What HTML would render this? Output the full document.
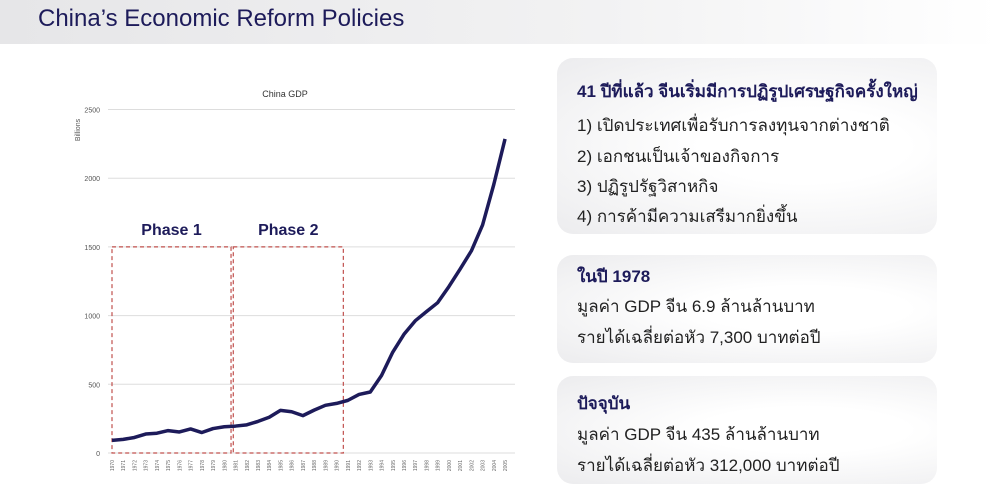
<!DOCTYPE html>
<html><head><meta charset="utf-8"><style>
body{margin:0;width:1000px;height:492px;background:#fff;font-family:"Liberation Sans","DejaVu Sans",sans-serif;position:relative;overflow:hidden}
.hdr{position:absolute;left:0;top:0;width:1000px;height:44px;background:linear-gradient(90deg,#e6e6e8,#f2f2f3 60%,#fff)}
.hdr h1{margin:0;position:absolute;left:38px;top:5px;font-size:24px;font-weight:normal;color:#1d1b5a}
.box{position:absolute;left:557px;width:380px;border-radius:16px;background:radial-gradient(ellipse at 65% 50%,#fff 30%,#ececee 100%);box-sizing:border-box;padding-left:20px;color:#222;font-size:17px}
.box .t{color:#1d1b5a;font-weight:bold}
.box div{position:absolute;left:20px;white-space:nowrap}
</style></head><body>
<div class="hdr"><h1>China’s Economic Reform Policies</h1></div>
<svg id="chart" width="540" height="492" style="position:absolute;left:0;top:0"></svg>
<div class="box" style="top:58px;height:176px">
<div class="t" style="top:20px">41 ปีที่แล้ว จีนเริ่มมีการปฏิรูปเศรษฐกิจครั้งใหญ่</div>
<div style="top:54px">1) เปิดประเทศเพื่อรับการลงทุนจากต่างชาติ</div>
<div style="top:85px">2) เอกชนเป็นเจ้าของกิจการ</div>
<div style="top:115px">3) ปฏิรูปรัฐวิสาหกิจ</div>
<div style="top:145px">4) การค้ามีความเสรีมากยิ่งขึ้น</div>
</div>
<div class="box" style="top:255px;height:108px">
<div class="t" style="top:8px">ในปี 1978</div>
<div style="top:38px">มูลค่า GDP จีน 6.9 ล้านล้านบาท</div>
<div style="top:69px">รายได้เฉลี่ยต่อหัว 7,300 บาทต่อปี</div>
</div>
<div class="box" style="top:376px;height:108px">
<div class="t" style="top:14px">ปัจจุบัน</div>
<div style="top:45px">มูลค่า GDP จีน 435 ล้านล้านบาท</div>
<div style="top:76px">รายได้เฉลี่ยต่อหัว 312,000 บาทต่อปี</div>
</div>
<script>
const years=[1970,1971,1972,1973,1974,1975,1976,1977,1978,1979,1980,1981,1982,1983,1984,1985,1986,1987,1988,1989,1990,1991,1992,1993,1994,1995,1996,1997,1998,1999,2000,2001,2002,2003,2004,2005];
const gdp=[92,99,113,138,144,163,153,175,149,178,191,196,205,230,260,310,300,272,312,347,361,383,426,444,564,734,864,962,1029,1094,1211,1339,1471,1660,1955,2286];
const yTicks=[0,500,1000,1500,2000,2500];
const phases=[{label:"Phase 1",from:1970,to:1980.6},{label:"Phase 2",from:1980.8,to:1990.6}];
const NS="http://www.w3.org/2000/svg";
const svg=document.getElementById('chart');
const x=y=>112+(y-1970)*11.23;
const yS=v=>453-v*0.1374;
function mk(t,a,txt){const e=document.createElementNS(NS,t);for(const k in a)e.setAttribute(k,a[k]);if(txt!==undefined)e.textContent=txt;svg.appendChild(e);return e;}
let e=mk('text',{x:285,y:97,'font-size':9,'text-anchor':'middle',fill:'#333'},'China GDP');


e=mk('text',{x:80,y:130,'font-size':7,fill:'#555',transform:'rotate(-90 80 130)','text-anchor':'middle'},'Billions');


yTicks.forEach(v=>{
 e=mk('line',{x1:108,x2:515,y1:yS(v),y2:yS(v),stroke:'#ddd','stroke-width':1});
 
 
 e=mk('text',{x:100,y:yS(v)+3,'font-size':7,fill:'#555','text-anchor':'end'},v);
 
 
});
years.forEach(yr=>{
 e=mk('text',{x:x(yr)+2,y:460,'font-size':5,fill:'#666',transform:`rotate(-90 ${x(yr)+2} 460)`,'text-anchor':'end'},yr);
 
 
});
phases.forEach(p=>{
 e=mk('rect',{x:x(p.from),y:yS(1500),width:x(p.to)-x(p.from),height:yS(0)-yS(1500),fill:'none',stroke:'#c0504d','stroke-width':1.2,'stroke-dasharray':'4 3'});
 
 
 e=mk('text',{x:(x(p.from)+x(p.to))/2,y:yS(1500)-12,'font-size':16,'font-weight':'bold',fill:'#1d1b5a','text-anchor':'middle'},p.label);
 
 
});
e=mk('polyline',{points:years.map((yr,i)=>x(yr)+','+yS(gdp[i])).join(' '),fill:'none',stroke:'#1d1b5a','stroke-width':3.5,'stroke-linejoin':'round'});


</script>
</body></html>
